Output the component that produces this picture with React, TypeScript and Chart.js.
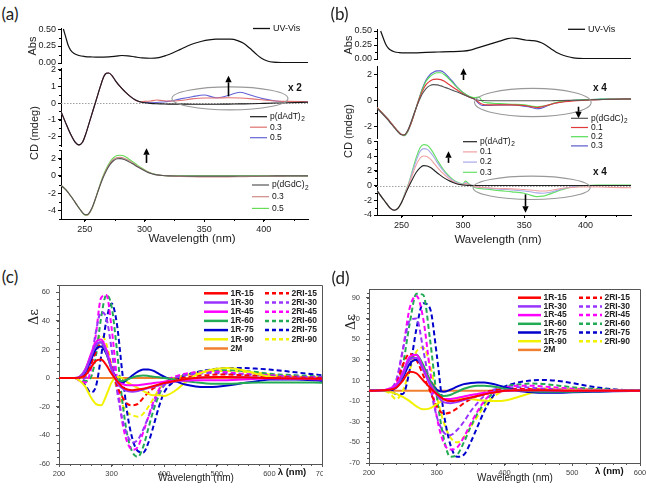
import React, { useEffect, useRef } from "react";
import { Chart, registerables } from "chart.js";
Chart.register(...registerables);

const SANS = "'Liberation Sans', Arial, Helvetica, sans-serif";

// ---------------- tick values ----------------
const abXTicks = [250, 300, 350, 400];
const absYTicks = [0, 0.25, 0.5];
const aMidYTicks = [-2, -1, 0, 1, 2];
const aBotYTicks = [-4, -2, 0, 2];
const bMidYTicks = [-2, 0, 2];
const bBotYTicks = [-4, -2, 0, 2, 4, 6];
const cXTicks = [200, 300, 400, 500, 600, 700];
const cYTicks = [-60, -40, -20, 0, 20, 40, 60];
const dXTicks = [200, 300, 400, 500, 600];
const dYTicks = [-70, -50, -30, -10, 10, 30, 50, 70, 90];

// ---------------- panel (a) ----------------
const aAbsX = [232,234,236,238,241,245,250,256,262,270,276,281,286,292,298,305,312,318,324,330,336,342,348,354,360,366,372,378,383,388,393,398,403,408,415,425,437];
const aAbsY = [0.50,0.38,0.26,0.19,0.14,0.11,0.095,0.088,0.085,0.09,0.10,0.11,0.105,0.09,0.075,0.07,0.08,0.11,0.15,0.20,0.25,0.29,0.32,0.34,0.35,0.35,0.35,0.33,0.29,0.22,0.14,0.07,0.03,0.012,0.005,0.005,0.005];

const aMidX = [230,234,238,242,245,248,251,254,257,260,263,266,268,270,273,276,280,284,288,292,296,300,305,310,315,320,330,340,350,360,370,380,390,400,410,420,437];
const aMidAT = [-0.5,-1.2,-1.85,-2.35,-2.5,-2.35,-1.8,-1.1,-0.4,0.3,1.0,1.6,1.78,1.8,1.62,1.3,0.95,0.65,0.4,0.2,0.08,0.02,-0.02,-0.04,-0.05,-0.06,-0.06,-0.07,-0.07,-0.07,-0.06,-0.05,-0.04,-0.02,0.0,0.02,0.05];
const aMid03 = [-0.5,-1.2,-1.85,-2.35,-2.5,-2.35,-1.8,-1.1,-0.4,0.3,1.0,1.6,1.78,1.8,1.62,1.3,0.95,0.65,0.4,0.2,0.08,0.1,0.12,0.18,0.15,0.12,0.15,0.25,0.3,0.3,0.32,0.3,0.25,0.18,0.12,0.1,0.08];
const aMid05 = [-0.5,-1.2,-1.85,-2.35,-2.5,-2.35,-1.8,-1.1,-0.4,0.3,1.0,1.6,1.78,1.8,1.62,1.3,0.95,0.65,0.4,0.2,0.08,0.04,0.02,0.03,0.06,0.1,0.25,0.38,0.48,0.32,0.45,0.65,0.45,0.25,0.12,0.08,0.08];

const aBotX = [230,234,238,242,246,249,251,253,256,259,262,265,268,271,274,277,280,283,286,290,294,298,302,306,310,315,320,330,340,350,360,370,380,390,400,410,420,437];
const aBotGC = [-1.1,-1.6,-2.3,-3.1,-3.9,-4.4,-4.5,-4.4,-3.7,-2.6,-1.4,-0.3,0.6,1.3,1.75,1.98,2.0,1.9,1.7,1.4,1.05,0.75,0.45,0.25,0.12,0.04,0.0,-0.02,-0.03,-0.03,-0.03,-0.03,-0.02,-0.02,-0.01,0,0,0];
const aBot03 = [-1.1,-1.6,-2.3,-3.1,-3.9,-4.4,-4.55,-4.45,-3.75,-2.6,-1.35,-0.2,0.7,1.45,1.9,2.12,2.15,2.05,1.85,1.5,1.12,0.8,0.5,0.28,0.14,0.05,0.0,-0.06,-0.1,-0.12,-0.12,-0.12,-0.1,-0.08,-0.05,-0.03,-0.02,0];
const aBot05 = [-1.1,-1.6,-2.3,-3.1,-3.9,-4.45,-4.6,-4.5,-3.8,-2.6,-1.3,-0.1,0.85,1.6,2.1,2.35,2.4,2.3,2.05,1.65,1.25,0.88,0.55,0.3,0.15,0.05,0,0,0,0,0,0,0,0,0,0,0,0];

// ---------------- panel (b) ----------------
const bAbsX = [233,235,237,239,241,244,248,253,260,270,280,290,300,306,312,318,324,330,336,340,344,348,352,356,360,364,368,372,376,380,385,390,395,400,410,437];
const bAbsY = [0.5,0.38,0.27,0.2,0.16,0.13,0.115,0.11,0.11,0.12,0.125,0.13,0.14,0.16,0.2,0.24,0.28,0.32,0.36,0.375,0.37,0.35,0.335,0.33,0.32,0.29,0.24,0.18,0.12,0.08,0.045,0.02,0.01,0.005,0.005,0.005];

const bMidX = [230,234,238,242,246,249,252,255,258,261,264,267,270,273,276,279,282,285,288,291,295,300,305,310,313,316,320,330,340,350,356,360,364,368,372,376,380,390,400,410,420,437];
const bMidGC = [-0.6,-1.0,-1.4,-1.85,-2.3,-2.6,-2.65,-2.3,-1.6,-0.8,-0.1,0.5,0.9,1.12,1.2,1.18,1.1,1.0,0.9,0.78,0.65,0.45,0.25,0.08,0.0,-0.02,-0.03,-0.03,-0.03,-0.03,-0.03,-0.03,-0.03,-0.03,-0.03,-0.02,-0.02,0,0.02,0.05,0.08,0.1];
const bMid01 = [-0.55,-0.95,-1.35,-1.8,-2.25,-2.55,-2.65,-2.35,-1.7,-0.85,0.0,0.7,1.2,1.45,1.6,1.62,1.58,1.45,1.25,1.05,0.8,0.5,0.25,0.05,-0.15,-0.3,-0.35,-0.35,-0.35,-0.4,-0.5,-0.55,-0.5,-0.4,-0.3,-0.2,-0.15,-0.05,0.0,0.05,0.08,0.1];
const bMid02 = [-0.55,-0.95,-1.35,-1.8,-2.25,-2.55,-2.7,-2.4,-1.7,-0.85,0.05,0.85,1.45,1.8,2.0,2.1,2.1,1.95,1.7,1.4,1.0,0.6,0.3,0.2,0.25,-0.1,-0.2,-0.25,-0.3,-0.35,-0.45,-0.5,-0.45,-0.4,-0.3,-0.15,-0.1,0,0.05,0.08,0.1,0.1];
const bMid03 = [-0.55,-0.95,-1.35,-1.8,-2.25,-2.55,-2.7,-2.4,-1.7,-0.85,0.05,0.9,1.55,1.95,2.15,2.25,2.25,2.1,1.8,1.5,1.05,0.6,0.3,0.05,-0.25,-0.4,-0.4,-0.35,-0.35,-0.45,-0.55,-0.65,-0.6,-0.45,-0.3,-0.2,-0.12,0,0.05,0.08,0.1,0.1];

const bBotX = [230,234,238,241,244,247,250,253,256,259,262,265,268,271,274,277,280,284,288,292,296,300,302,305,310,320,330,340,350,355,360,365,370,375,380,385,390,395,400,410,420,437];
const bBotAT = [-0.7,-1.6,-2.5,-3.1,-3.35,-3.1,-2.3,-1.2,-0.1,0.9,1.8,2.4,2.7,2.65,2.4,2.0,1.6,1.1,0.7,0.4,0.18,0.08,0.05,0.02,0,0,0,0,0,0,0,0,0,0,0,0,0,0,0,0,0,0];
const bBot01 = [-0.7,-1.6,-2.5,-3.1,-3.35,-3.1,-2.3,-1.1,0.2,1.5,2.8,3.7,4.0,3.9,3.5,2.9,2.3,1.6,1.0,0.55,0.25,0.1,0.3,0.1,-0.15,-0.3,-0.4,-0.45,-0.55,-0.6,-0.7,-0.75,-0.7,-0.55,-0.4,-0.3,-0.25,-0.2,-0.2,-0.2,-0.25,-0.3];
const bBot02 = [-0.7,-1.6,-2.5,-3.1,-3.35,-3.1,-2.3,-1.0,0.3,1.9,3.4,4.6,5.0,4.9,4.4,3.7,2.9,2.0,1.25,0.7,0.35,0.15,0.4,0.15,-0.15,-0.35,-0.5,-0.6,-0.75,-0.85,-1.0,-1.05,-0.95,-0.75,-0.5,-0.3,-0.15,-0.05,0,0,0,0];
const bBot03 = [-0.7,-1.6,-2.5,-3.1,-3.35,-3.1,-2.3,-0.95,0.4,2.1,3.8,5.1,5.55,5.45,4.9,4.1,3.2,2.2,1.4,0.8,0.4,0.2,0.6,0.2,-0.3,-0.5,-0.7,-0.85,-1.05,-1.3,-1.5,-1.45,-1.2,-0.9,-0.6,-0.35,-0.2,-0.08,0,0.05,0.05,0.05];

// ---------------- panel (c) ----------------
const cX = [200,230,240,250,260,270,280,290,300,310,320,330,340,350,360,370,380,390,400,420,440,460,480,500,520,550,580,600,650,700];
const c1R15 = [0,0,0.5,2,7,12,13,9,3,-2,-6,-8,-8.5,-8,-7.5,-6.5,-5.5,-4.5,-3.5,-2,-0.8,0,0.5,0.8,0.8,0.5,0.2,0,-0.3,-0.5];
const c1R30 = [0,0,1,5,14,23,25,18,6,-3,-7,-9,-9.5,-9,-8,-7,-6,-5,-4,-2.5,-1,0,0.5,0.8,0.8,0.5,0.2,0,-0.3,-0.5];
const c1R45 = [0,0,1,6,16,25,27,20,7,-2,-4,-5,-5,-5,-4.5,-4,-3.5,-3,-2.5,-2,-1.8,-1.5,-1.5,-1.5,-1.5,-1,-0.5,-0.3,-0.5,-1];
const c1R60 = [0,0,1,6,15,23,25,18,6,-1,-2,-1,0.5,1.5,1.8,1.5,1,0.5,0,-1,-2,-3,-3.8,-4,-4,-3.5,-3,-3,-3,-3.2];
const c1R75 = [0,0,0.5,4,12,20,22,17,7,-1,-3,-1,2,4.5,6,6,5,3,1,-2,-4.5,-5.8,-6.2,-6,-5.2,-3.5,-2,-1,-1,-2];
const c1R90 = [0,0,-2,-6,-13,-18,-19,-12,-3,1,0,-3,-5,-7,-9,-11,-12,-12,-12.5,-9,-3,2,5,6.5,7,5.5,2.5,1,-0.5,-1];
const c2RI15 = [0,0,0,2,9,18,24,20,8,-5,-13,-18,-19,-18,-14,-10,-7,-5,-3,-1,0.5,1.5,2,2.5,2.5,2,1.5,1,0.5,0];
const c2RI30 = [0,0,-1,0,10,32,46,42,20,-8,-28,-40,-45,-43,-36,-27,-18,-10,-5,0,2,3,3.5,3.5,3,2.5,2,1.5,1,0.5];
const c2RI45 = [0,0,-2,-3,5,30,56,58,35,0,-30,-45,-50,-48,-38,-27,-16,-8,-3,1,3,4,4.5,4.5,4,3,2.5,2,1,0.5];
const c2RI60 = [0,0,-1,-2,0,15,42,58,50,20,-15,-40,-52,-55,-48,-35,-22,-12,-5,0,2.5,4,5,5.5,5.5,5,4,3,2,1];
const c2RI75 = [0,0,-1,-5,-10,-6,15,40,52,38,5,-25,-43,-51,-52,-45,-33,-20,-10,-2,2,4,5.5,6.5,7,7,6.5,6,4,2];
const c2RI90 = [0,0,0,3,12,24,30,24,8,-8,-18,-24,-26,-27,-25,-20,-14,-8,-4,0,2,3.5,4.5,5,5,4.5,3.5,2.5,1,0.5];
const c2M = [0,0,0,0,0,0,0,0,0,0,0,0,0,0,0,0,0,0,0,0,0,0,0,0,0,0,0,0,0,0];

// ---------------- panel (d) ----------------
const dX = [200,220,230,240,250,260,270,280,290,300,310,320,330,340,350,360,370,380,390,400,420,440,460,480,500,530,560,600];
const d1R15 = [0,0.5,1,3,10,18.5,17,10,3,-3,-8,-10,-9.5,-8,-6.5,-5,-3.5,-2,-1,0,0.5,0.5,0.5,0.3,0,0,0,0];
const d1R30 = [0,0.5,1,4,15,30,32,20,6,-4,-11,-12,-11,-9,-7,-5,-3.5,-2,-1,0,0.5,0.5,0.5,0.3,0,0,0,0];
const d1R45 = [0,0.5,2,6,18,33,35,22,7,-3,-8,-8,-7,-5.5,-4,-3,-2,-1.5,-1,0,0.5,0.5,0.5,0.3,0,0,0,0];
const d1R60 = [0,0.5,1,4,16,31,35,25,10,-1,-5,-4,-1,2,4,5,5,4.5,3.5,2,0.5,-0.5,-1,-1,-0.8,-0.5,-0.2,0];
const d1R75 = [0,0.5,0.5,3,13,26,30,22,10,1,-1,1,4,6.5,7.5,8,8,7,5.5,3.5,0,-1.5,-2,-2,-1.5,-1,-0.5,0];
const d1R90 = [0,0,-1,-3,-6,-10,-15,-18,-17,-13,-9,-8,-7.5,-7.5,-8,-9,-9.5,-10,-10,-9.5,-6,-2,0.5,1,0.8,0.5,0.2,0];
const d2RI15 = [0,0.5,1,6,25,36,30,15,0,-15,-22,-21,-17,-12,-8,-5,-2,0,1,1.5,2,1.5,1,0.5,0.3,0,0,0];
const d2RI30 = [0,0.5,2,10,40,68,70,40,5,-25,-40,-43,-38,-30,-20,-12,-5,0,2,3,3.5,3,2,1.5,1,0.5,0.2,0];
const d2RI45 = [0,0.5,2,8,40,80,92,70,20,-25,-50,-57,-55,-45,-32,-20,-10,-3,1,3,5,5,4,3,2,1,0.5,0];
const d2RI60 = [0,0.5,1,4,25,65,94,93,50,-5,-45,-64,-62,-50,-35,-22,-12,-4,1,4,6,7,6.5,5,3.5,2,1,0];
const d2RI75 = [0,0.5,0,-3,-3,20,60,85,80,35,-20,-52,-64,-62,-50,-35,-20,-8,0,4,8,10,10.5,9.5,7.5,4,1.5,0];
const d2RI90 = [0,0,-2,-8,0,20,38,42,25,-5,-30,-45,-50,-45,-35,-25,-15,-8,-3,0,1,1.5,2,2,2,1.5,1,0.5];
const d2M = [0,0,0,0,0,0,0,0,0,0,0,0,0,0,0,0,0,0,0,0,0,0,0,0,0,0,0,0];

// ---------------- styling ----------------
const RED = "#ff0000", PURPLE = "#9933ff", MAGENTA = "#ff00ff", GREEN = "#22aa55", BLUE = "#0000cc", YELLOW = "#f2f200", ORANGE = "#f08030";
const DASH = [5, 3];

type LineDef = { label: string; x: number[]; y: number[]; color: string; width: number; dash?: number[] };
type LegendBlock = { x: number; y: number; rowH: number; len: number; gap: number; font: string; subFont?: string; lw: number; dash?: number[]; color: string; items: number[] };
type Spec = {
  plot: [number, number, number, number];
  pad: [number, number, number, number];
  xr: [number, number]; yr: [number, number];
  xTicks: number[] | null; yTicks: number[]; yFmt: (v: number) => string;
  xMinor?: number; yMinor?: number;
  tickFont: number; tickColor: string; axisColor: string; tickLen: number; xPad: number; yPad: number;
  frame?: boolean; zero?: boolean;
  lines: LineDef[];
  legends?: LegendBlock[];
  ellipses?: [number, number, number, number][];
  arrows?: [number, number, number][];
  texts?: { x: number; y: number; text: string; font: string }[];
};

const lgFont = `8.5px ${SANS}`;
const lgSub = `6.5px ${SANS}`;

const abBase = { tickFont: 9, tickColor: "#222", axisColor: "#000", tickLen: 3, xPad: 2, yPad: 2 };
const cdBase = { tickFont: 7.5, tickColor: "#444", axisColor: "#555", tickLen: 3, xPad: 2, yPad: 6, frame: true };

const cLines = (X: number[], s: number[][]): LineDef[] => [
  { label: "1R-15", x: X, y: s[0], color: RED, width: 2 },
  { label: "1R-30", x: X, y: s[1], color: PURPLE, width: 2 },
  { label: "1R-45", x: X, y: s[2], color: MAGENTA, width: 2 },
  { label: "1R-60", x: X, y: s[3], color: GREEN, width: 2 },
  { label: "1R-75", x: X, y: s[4], color: BLUE, width: 2 },
  { label: "1R-90", x: X, y: s[5], color: YELLOW, width: 2 },
  { label: "2RI-15", x: X, y: s[6], color: RED, width: 2, dash: DASH },
  { label: "2RI-30", x: X, y: s[7], color: PURPLE, width: 2, dash: DASH },
  { label: "2RI-45", x: X, y: s[8], color: MAGENTA, width: 2, dash: DASH },
  { label: "2RI-60", x: X, y: s[9], color: GREEN, width: 2, dash: DASH },
  { label: "2RI-75", x: X, y: s[10], color: BLUE, width: 2, dash: DASH },
  { label: "2RI-90", x: X, y: s[11], color: YELLOW, width: 2, dash: DASH },
  { label: "2M", x: X, y: s[12], color: ORANGE, width: 2 },
];

const SPECS: Spec[] = [
  { ...abBase, plot: [61, 28, 308, 63], pad: [40, 8, 30, 4], xr: [230, 437], yr: [0, 0.515], xTicks: null, yTicks: absYTicks, yFmt: (v) => v.toFixed(2), yMinor: 0.125,
    lines: [{ label: "UV-Vis", x: aAbsX, y: aAbsY, color: "#111", width: 1.2 }],
    legends: [{ x: 253, y: 28.5, rowH: 0, len: 17, gap: 3, font: `9px ${SANS}`, lw: 1.3, color: "#111", items: [0] }] },
  { ...abBase, plot: [61, 68, 308, 146], pad: [40, 4, 20, 4], xr: [230, 437], yr: [-2.57, 2.1], xTicks: null, yTicks: aMidYTicks, yFmt: (v) => String(v), yMinor: 0.5, zero: true,
    lines: [
      { label: "p(dAdT)_2", x: aMidX, y: aMidAT, color: "#1a1a1a", width: 1.1 },
      { label: "0.3", x: aMidX, y: aMid03, color: "#e07070", width: 1.1 },
      { label: "0.5", x: aMidX, y: aMid05, color: "#6464d8", width: 1.1 },
    ],
    legends: [{ x: 250, y: 116.7, rowH: 10.5, len: 17, gap: 3, font: lgFont, subFont: lgSub, lw: 1.2, color: "#111", items: [0, 1, 2] }],
    ellipses: [[371.6, 0.28, 48.6, 0.69]], arrows: [[369.7, 0.4, 1.63]],
    texts: [{ x: 426, y: 0.86, text: "x 2", font: `bold 10px ${SANS}` }] },
  { ...abBase, plot: [61, 150, 308, 219], pad: [40, 6, 20, 16], xr: [230, 437], yr: [-5, 3], xTicks: abXTicks, xMinor: 25, yTicks: aBotYTicks, yFmt: (v) => String(v), yMinor: 1,
    lines: [
      { label: "p(dGdC)_2", x: aBotX, y: aBotGC, color: "#555", width: 1.1 },
      { label: "0.3", x: aBotX, y: aBot03, color: "#d08a8a", width: 1.1 },
      { label: "0.5", x: aBotX, y: aBot05, color: "#66dd55", width: 1.1 },
    ],
    legends: [{ x: 252, y: 185, rowH: 11.7, len: 17, gap: 3, font: lgFont, subFont: lgSub, lw: 1.2, color: "#111", items: [0, 1, 2] }],
    arrows: [[301, 1.5, 3.2]] },
  { ...abBase, plot: [377, 29, 631, 59], pad: [40, 8, 14, 4], xr: [230, 437], yr: [0, 0.536], xTicks: null, yTicks: absYTicks, yFmt: (v) => v.toFixed(2), yMinor: 0.125,
    lines: [{ label: "UV-Vis", x: bAbsX, y: bAbsY, color: "#111", width: 1.2 }],
    legends: [{ x: 568, y: 29.3, rowH: 0, len: 17, gap: 3, font: `9px ${SANS}`, lw: 1.3, color: "#111", items: [0] }] },
  { ...abBase, plot: [377, 66, 631, 138], pad: [40, 4, 14, 12], xr: [230, 437], yr: [-2.88, 2.62], xTicks: null, yTicks: bMidYTicks, yFmt: (v) => String(v), yMinor: 1,
    lines: [
      { label: "p(dGdC)_2", x: bMidX, y: bMidGC, color: "#555", width: 1.1 },
      { label: "0.1", x: bMidX, y: bMid01, color: "#e03a3a", width: 1.1 },
      { label: "0.2", x: bMidX, y: bMid02, color: "#55dd55", width: 1.1 },
      { label: "0.3", x: bMidX, y: bMid03, color: "#5a5acc", width: 1.1 },
    ],
    legends: [{ x: 571, y: 118.3, rowH: 9.2, len: 17, gap: 3, font: lgFont, subFont: lgSub, lw: 1.2, color: "#111", items: [0, 1, 2, 3] }],
    ellipses: [[357, -0.17, 47.5, 1.08]], arrows: [[300, 1.55, 2.45], [393.8, -0.49, -1.37]],
    texts: [{ x: 411.7, y: 0.92, text: "x 4", font: `bold 10px ${SANS}` }] },
  { ...abBase, plot: [377, 141, 631, 215], pad: [40, 4, 14, 16], xr: [230, 437], yr: [-4, 6.04], xTicks: abXTicks, xMinor: 25, yTicks: bBotYTicks, yFmt: (v) => String(v), yMinor: 1, zero: true,
    lines: [
      { label: "p(dAdT)_2", x: bBotX, y: bBotAT, color: "#222", width: 1.1 },
      { label: "0.1", x: bBotX, y: bBot01, color: "#f0a0a0", width: 1.1 },
      { label: "0.2", x: bBotX, y: bBot02, color: "#a8a8e8", width: 1.1 },
      { label: "0.3", x: bBotX, y: bBot03, color: "#66e066", width: 1.2 },
    ],
    legends: [{ x: 463, y: 141.7, rowH: 10.2, len: 14, gap: 3, font: lgFont, subFont: lgSub, lw: 1.2, color: "#111", items: [0, 1, 2, 3] }],
    ellipses: [[356, -0.31, 47.7, 1.58]], arrows: [[288, 3.07, 4.64], [351, -1.2, -3.7]],
    texts: [{ x: 411.7, y: 1.76, text: "x 4", font: `bold 10px ${SANS}` }] },
  { ...cdBase, plot: [59, 285, 322, 464], pad: [30, 4, 1, 14], xr: [200, 700], yr: [-60, 65], xTicks: cXTicks, xMinor: 20, yTicks: cYTicks, yFmt: (v) => String(v), yMinor: 5,
    lines: cLines(cX, [c1R15, c1R30, c1R45, c1R60, c1R75, c1R90, c2RI15, c2RI30, c2RI45, c2RI60, c2RI75, c2RI90, c2M]),
    legends: [
      { x: 204, y: 293.3, rowH: 9.2, len: 24, gap: 2.5, font: `bold 8.5px ${SANS}`, lw: 2.5, dash: [4, 3], color: "#222", items: [0, 1, 2, 3, 4, 5, 12] },
      { x: 265, y: 293.3, rowH: 9.2, len: 24, gap: 2.5, font: `bold 8.5px ${SANS}`, lw: 2.5, dash: [4, 3], color: "#222", items: [6, 7, 8, 9, 10, 11] },
    ],
    texts: [{ x: 643, y: -65.6, text: "λ (nm)", font: `bold 9.5px ${SANS}` }] },
  { ...cdBase, plot: [369, 289, 640, 463], pad: [30, 4, 6, 14], xr: [200, 600], yr: [-70, 98.7], xTicks: dXTicks, xMinor: 20, yTicks: dYTicks, yFmt: (v) => String(v), yMinor: 5,
    lines: cLines(dX, [d1R15, d1R30, d1R45, d1R60, d1R75, d1R90, d2RI15, d2RI30, d2RI45, d2RI60, d2RI75, d2RI90, d2M]),
    legends: [
      { x: 518, y: 297.7, rowH: 8.7, len: 23, gap: 2.5, font: `bold 8.5px ${SANS}`, lw: 2.5, dash: [4, 3], color: "#222", items: [0, 1, 2, 3, 4, 5, 12] },
      { x: 579, y: 297.7, rowH: 8.7, len: 23, gap: 2.5, font: `bold 8.5px ${SANS}`, lw: 2.5, dash: [4, 3], color: "#222", items: [6, 7, 8, 9, 10, 11] },
    ],
    texts: [{ x: 554.7, y: -78.4, text: "λ (nm)", font: `bold 9.5px ${SANS}` }] },
];

function geom(s: Spec) {
  const [pl, pt, pr, pb] = s.plot;
  const [Pl, Pt, Pr, Pb] = s.pad;
  return { x: pl - Pl, y: pt - Pt, w: pr - pl + Pl + Pr, h: pb - pt + Pt + Pb };
}

function makeDecor(s: Spec, ox: number, oy: number) {
  return {
    id: "decor",
    beforeDatasetsDraw(chart: any) {
      const { ctx, chartArea: ca, scales } = chart;
      if (s.zero) {
        const y = Math.round(scales.y.getPixelForValue(0)) + 0.5;
        ctx.save();
        ctx.strokeStyle = "#a0a0a0"; ctx.lineWidth = 1; ctx.setLineDash([1.5, 1.5]);
        ctx.beginPath(); ctx.moveTo(ca.left, y); ctx.lineTo(ca.right, y); ctx.stroke();
        ctx.restore();
      }
    },
    afterDraw(chart: any) {
      const { ctx, chartArea: ca, scales } = chart;
      const xs = scales.x, ys = scales.y;
      ctx.save();
      ctx.setLineDash([]);
      ctx.strokeStyle = s.axisColor; ctx.lineWidth = 1;
      if (s.yMinor) {
        const st = s.yMinor;
        for (let v = Math.ceil(s.yr[0] / st - 1e-9) * st; v <= s.yr[1] + 1e-9; v += st) {
          const p = Math.round(ys.getPixelForValue(v)) + 0.5;
          ctx.beginPath(); ctx.moveTo(ca.left, p); ctx.lineTo(ca.left - 2, p); ctx.stroke();
        }
      }
      if (s.xMinor && s.xTicks) {
        const st = s.xMinor;
        for (let v = Math.ceil(s.xr[0] / st - 1e-9) * st; v <= s.xr[1] + 1e-9; v += st) {
          const p = Math.round(xs.getPixelForValue(v)) + 0.5;
          ctx.beginPath(); ctx.moveTo(p, ca.bottom); ctx.lineTo(p, ca.bottom + 2); ctx.stroke();
        }
      }
      if (s.frame) {
        ctx.strokeStyle = s.axisColor;
        ctx.beginPath();
        ctx.moveTo(Math.round(ca.left) + 0.5, Math.round(ca.top) + 0.5);
        ctx.lineTo(Math.round(ca.right) + 0.5, Math.round(ca.top) + 0.5);
        ctx.lineTo(Math.round(ca.right) + 0.5, Math.round(ca.bottom) + 0.5);
        ctx.stroke();
      }
      (s.ellipses || []).forEach(([cx, cy, rx, ry]) => {
        const px = xs.getPixelForValue(cx), py = ys.getPixelForValue(cy);
        const rpx = Math.abs(xs.getPixelForValue(cx + rx) - px), rpy = Math.abs(ys.getPixelForValue(cy + ry) - py);
        ctx.strokeStyle = "#999"; ctx.lineWidth = 1.1;
        ctx.beginPath(); ctx.ellipse(px, py, rpx, rpy, 0, 0, Math.PI * 2); ctx.stroke();
      });
      (s.arrows || []).forEach(([x, y1, y2]) => {
        const px = Math.round(xs.getPixelForValue(x)) + 0.5, p1 = ys.getPixelForValue(y1), p2 = ys.getPixelForValue(y2);
        const dir = Math.sign(p2 - p1), head = 6.5, hw = 3.2;
        ctx.strokeStyle = "#000"; ctx.fillStyle = "#000"; ctx.lineWidth = 1.6;
        ctx.beginPath(); ctx.moveTo(px, p1); ctx.lineTo(px, p2 - dir * head); ctx.stroke();
        ctx.beginPath(); ctx.moveTo(px, p2); ctx.lineTo(px - hw, p2 - dir * head); ctx.lineTo(px + hw, p2 - dir * head); ctx.closePath(); ctx.fill();
      });
      (s.texts || []).forEach((t) => {
        ctx.font = t.font; ctx.fillStyle = "#111"; ctx.textAlign = "center"; ctx.textBaseline = "middle";
        ctx.fillText(t.text, xs.getPixelForValue(t.x), ys.getPixelForValue(t.y));
      });
      (s.legends || []).forEach((lg) => {
        lg.items.forEach((di, r) => {
          const ds = chart.data.datasets[di];
          const y = lg.y - oy + r * lg.rowH, x0 = lg.x - ox;
          ctx.strokeStyle = ds.borderColor; ctx.lineWidth = lg.lw;
          ctx.setLineDash(ds.borderDash && ds.borderDash.length ? (lg.dash || ds.borderDash) : []);
          ctx.beginPath(); ctx.moveTo(x0, y); ctx.lineTo(x0 + lg.len, y); ctx.stroke();
          ctx.setLineDash([]);
          const [main, sub] = String(ds.label).split("_");
          ctx.font = lg.font; ctx.fillStyle = lg.color; ctx.textAlign = "left"; ctx.textBaseline = "middle";
          const tx = x0 + lg.len + lg.gap;
          ctx.fillText(main, tx, y);
          if (sub) {
            const w = ctx.measureText(main).width;
            ctx.font = lg.subFont || lg.font;
            ctx.fillText(sub, tx + w + 0.5, y + 3);
          }
        });
      });
      ctx.restore();
    },
  };
}

function buildChart(canvas: HTMLCanvasElement, s: Spec) {
  const g = geom(s);
  const [Pl, Pt, Pr, Pb] = s.pad;
  const showX = !!s.xTicks;
  return new Chart(canvas, {
    type: "line",
    data: {
      datasets: s.lines.map((l) => ({
        label: l.label,
        data: l.x.map((x, i) => ({ x, y: l.y[i] })),
        borderColor: l.color,
        backgroundColor: l.color,
        borderWidth: l.width,
        borderDash: l.dash || [],
        pointRadius: 0,
        fill: false,
        cubicInterpolationMode: "monotone",
      })),
    },
    options: {
      responsive: false,
      maintainAspectRatio: false,
      animation: false,
      devicePixelRatio: 1,
      events: [],
      layout: { autoPadding: false, padding: { left: 0, top: Pt, right: Pr, bottom: showX ? 0 : Pb } },
      plugins: { legend: { display: false }, tooltip: { enabled: false } },
      scales: {
        x: {
          type: "linear", min: s.xr[0], max: s.xr[1], display: showX,
          afterBuildTicks: (sc: any) => { sc.ticks = (s.xTicks || []).map((v) => ({ value: v })); },
          afterFit: (sc: any) => { sc.height = showX ? Pb : 0; sc.paddingLeft = 0; sc.paddingRight = 0; },
          grid: { display: true, drawOnChartArea: false, drawTicks: true, tickLength: s.tickLen, color: s.axisColor, lineWidth: 1 },
          border: { display: true, color: s.axisColor, width: 1 },
          ticks: { autoSkip: false, maxRotation: 0, padding: s.xPad, color: s.tickColor, font: { family: SANS, size: s.tickFont }, callback: (v: any) => String(v) },
        },
        y: {
          type: "linear", min: s.yr[0], max: s.yr[1],
          afterBuildTicks: (sc: any) => { sc.ticks = s.yTicks.map((v) => ({ value: v })); },
          afterFit: (sc: any) => { sc.width = Pl; sc.paddingTop = 0; sc.paddingBottom = 0; },
          grid: { display: true, drawOnChartArea: false, drawTicks: true, tickLength: s.tickLen, color: s.axisColor, lineWidth: 1 },
          border: { display: true, color: s.axisColor, width: 1 },
          ticks: { autoSkip: false, padding: s.yPad, color: s.tickColor, font: { family: SANS, size: s.tickFont }, callback: (v: any) => s.yFmt(Number(v)) },
        },
      },
    } as any,
    plugins: [makeDecor(s, g.x, g.y)],
  });
}

type Lab = { x: number; y: number; text: string; size: number; rot?: boolean; family?: string; bold?: boolean };
const LABELS: Lab[] = [
  { x: 10, y: 13, text: "(a)", size: 17, family: "Lato, 'Liberation Sans', sans-serif" },
  { x: 339.5, y: 12.5, text: "(b)", size: 17, family: "Lato, 'Liberation Sans', sans-serif" },
  { x: 10, y: 275.5, text: "(c)", size: 17, family: "Lato, 'Liberation Sans', sans-serif" },
  { x: 340.5, y: 276.5, text: "(d)", size: 17, family: "Lato, 'Liberation Sans', sans-serif" },
  { x: 32, y: 46, text: "Abs", size: 11, rot: true },
  { x: 34, y: 133, text: "CD (mdeg)", size: 11, rot: true },
  { x: 348, y: 45, text: "Abs", size: 11, rot: true },
  { x: 348, y: 131, text: "CD (mdeg)", size: 11, rot: true },
  { x: 192, y: 239, text: "Wavelength (nm)", size: 11.5 },
  { x: 498, y: 240, text: "Wavelength (nm)", size: 11.5 },
  { x: 196, y: 478, text: "Wavelength (nm)", size: 10 },
  { x: 515, y: 478, text: "Wavelength (nm)", size: 10 },
  { x: 33, y: 317, text: "Δε", size: 13, rot: true, family: "'DejaVu Serif', 'Liberation Serif', serif" },
  { x: 350, y: 322, text: "Δε", size: 13, rot: true, family: "'DejaVu Serif', 'Liberation Serif', serif" },
];

export default function App() {
  const refs = useRef<(HTMLCanvasElement | null)[]>([]);
  useEffect(() => {
    const charts = SPECS.map((s, i) => buildChart(refs.current[i] as HTMLCanvasElement, s));
    return () => charts.forEach((c) => c.destroy());
  }, []);
  return (
    <div style={{ position: "absolute", left: 0, top: 0, width: 646, height: 493, background: "#fff", overflow: "hidden", fontFamily: SANS }}>
      {SPECS.map((s, i) => {
        const g = geom(s);
        return (
          <canvas
            key={i}
            ref={(el) => { refs.current[i] = el; }}
            width={g.w}
            height={g.h}
            style={{ position: "absolute", left: g.x, top: g.y, width: g.w, height: g.h }}
          />
        );
      })}
      {LABELS.map((l, i) => (
        <div
          key={"l" + i}
          style={{
            position: "absolute", left: l.x, top: l.y, whiteSpace: "nowrap", lineHeight: 1,
            fontSize: l.size, fontFamily: l.family || SANS, fontWeight: l.bold ? "bold" : "normal", color: "#222",
            transform: `translate(-50%, -50%)${l.rot ? " rotate(-90deg)" : ""}`,
          }}
        >
          {l.text}
        </div>
      ))}
    </div>
  );
}
